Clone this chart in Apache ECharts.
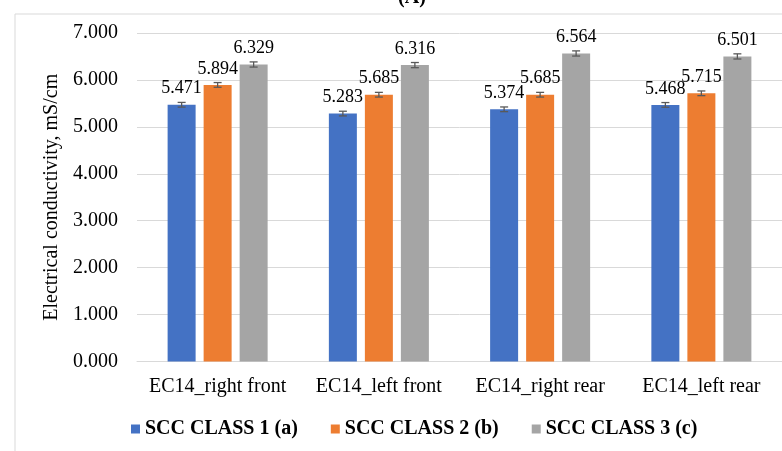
<!DOCTYPE html>
<html>
<head>
<meta charset="utf-8">
<script src="https://cdn.jsdelivr.net/npm/echarts@6/dist/echarts.min.js"></script>
<style>html,body{margin:0;padding:0;background:#fff;}#c{width:782px;height:451px;}</style>
</head>
<body>
<div id="c"></div>
<script>
const categories = ['EC14_right front', 'EC14_left front', 'EC14_right rear', 'EC14_left rear'];
const seriesNames = ['SCC CLASS 1 (a)', 'SCC CLASS 2 (b)', 'SCC CLASS 3 (c)'];
const class1 = [5.471, 5.283, 5.374, 5.468];
const class2 = [5.894, 5.685, 5.685, 5.715];
const class3 = [6.329, 6.316, 6.564, 6.501];
const err1 = [0.05, 0.05, 0.05, 0.05];
const err2 = [0.05, 0.05, 0.05, 0.05];
const err3 = [0.055, 0.055, 0.055, 0.055];
const yTicks = { min: 0, max: 7, interval: 1 };

const colors = ['#4472C4', '#ED7D31', '#A5A5A5'];
const values = [class1, class2, class3];
const errs = [err1, err2, err3];
const FONT = "'Liberation Serif', 'Times New Roman', serif";
const BAR_W = 28, BAR_GAP = 8;
const offsets = [-(BAR_W + BAR_GAP), 0, BAR_W + BAR_GAP];

const series = [];
values.forEach((vals, i) => {
  series.push({
    name: seriesNames[i],
    type: 'bar',
    data: vals,
    barWidth: BAR_W,
    barGap: (BAR_GAP / BAR_W * 100).toFixed(1) + '%',
    itemStyle: { color: colors[i] },
    label: {
      show: true, position: 'top', distance: 7,
      fontFamily: FONT, fontSize: 18, color: '#000',
      formatter: p => p.value.toFixed(3)
    },
    z: 2
  });
});
values.forEach((vals, i) => {
  series.push({
    type: 'custom',
    name: 'err' + i,
    data: vals.map((v, k) => [k, v, errs[i][k]]),
    z: 5,
    silent: true,
    renderItem: function (params, api) {
      const x = api.value(0), v = api.value(1), e = api.value(2);
      const top = api.coord([x, v + e]);
      const bot = api.coord([x, v - e]);
      const cx = top[0] + offsets[i];
      const st = { stroke: '#595959', lineWidth: 1.3 };
      return {
        type: 'group',
        children: [
          { type: 'line', shape: { x1: cx, y1: top[1], x2: cx, y2: bot[1] }, style: st },
          { type: 'line', shape: { x1: cx - 4, y1: top[1], x2: cx + 4, y2: top[1] }, style: st },
          { type: 'line', shape: { x1: cx - 4, y1: bot[1], x2: cx + 4, y2: bot[1] }, style: st }
        ]
      };
    }
  });
});

const chart = echarts.init(document.getElementById('c'), null, { renderer: 'canvas' });
chart.setOption({
  animation: false,
  backgroundColor: '#fff',
  title: {
    text: '(A)', left: 407, top: -17, textAlign: 'center',
    textStyle: { fontFamily: FONT, fontSize: 20, fontWeight: 'bold', color: '#000' }
  },
  graphic: [{
    type: 'rect', left: 12.5, top: 11.5, shape: { width: 900, height: 600 },
    style: { fill: 'none', stroke: '#D9D9D9', lineWidth: 1 }, silent: true, z: -1
  }],
  legend: {
    data: seriesNames,
    left: 131, top: 419, padding: 0,
    icon: 'rect', itemWidth: 9, itemHeight: 9, itemGap: 33,
    textStyle: { fontFamily: FONT, fontSize: 20, fontWeight: 'bold', color: '#000' }
  },
  grid: { left: 137, top: 33, width: 649, height: 328.5, containLabel: false },
  xAxis: {
    type: 'category', data: categories,
    axisLine: { lineStyle: { color: '#D9D9D9', width: 1 } },
    axisTick: { show: false },
    axisLabel: { fontFamily: FONT, fontSize: 20, color: '#000', margin: 15, interval: 0 }
  },
  yAxis: {
    type: 'value', min: yTicks.min, max: yTicks.max, interval: yTicks.interval,
    name: 'Electrical conductivity, mS/cm', nameLocation: 'middle', nameGap: 75,
    nameTextStyle: { fontFamily: FONT, fontSize: 20, color: '#000' },
    axisLine: { show: false }, axisTick: { show: false },
    axisLabel: { fontFamily: FONT, fontSize: 20, color: '#000', margin: 19, formatter: v => v.toFixed(3) },
    splitLine: { lineStyle: { color: '#D9D9D9', width: 1 } }
  },
  series: series
});
</script>
</body>
</html>
